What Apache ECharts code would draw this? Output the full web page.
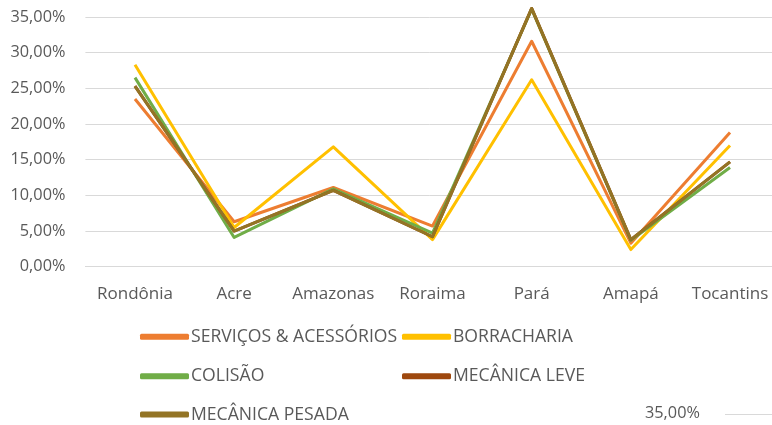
<!DOCTYPE html>
<html>
<head>
<meta charset="utf-8">
<script src="https://cdn.jsdelivr.net/npm/echarts@6/dist/echarts.min.js"></script>
<style>
  html, body { margin: 0; padding: 0; background: #fff; }
  #chart { width: 772px; height: 425px; }
</style>
</head>
<body>
<div id="chart"></div>
<script>
// Participação por estado (%), por segmento
const estados = ['Rondônia', 'Acre', 'Amazonas', 'Roraima', 'Pará', 'Amapá', 'Tocantins'];
const servicosAcessorios = [23.5, 6.3, 11.1, 5.7, 31.6, 3.3, 18.8];
const borracharia        = [28.3, 5.5, 16.8, 3.8, 26.2, 2.4, 17.0];
const colisao            = [26.5, 4.1, 10.9, 4.7, 36.1, 3.7, 13.9];
const mecanicaLeve       = [25.3, 5.0, 10.7, 4.2, 36.2, 3.8, 14.7];
const mecanicaPesada     = [25.3, 5.0, 10.7, 4.2, 36.2, 3.8, 14.7];
const yTicks = [0, 5, 10, 15, 20, 25, 30, 35];

const FONT = '"Open Sans", sans-serif';
const TXT = '#595959';

function pct(v) {
  return v.toFixed(2).replace('.', ',') + '%';
}

const seriesDefs = [
  { name: 'SERVIÇOS & ACESSÓRIOS', data: servicosAcessorios, color: '#ED7D31' },
  { name: 'BORRACHARIA', data: borracharia, color: '#FFC000' },
  { name: 'COLISÃO', data: colisao, color: '#70AD47' },
  { name: 'MECÂNICA LEVE', data: mecanicaLeve, color: '#9E480E' },
  { name: 'MECÂNICA PESADA', data: mecanicaPesada, color: '#937425' }
];

// legend entries laid out on a two-column grid
const legendSlots = [
  { left: 140, center: 336.7 },
  { left: 402, center: 336.7 },
  { left: 140, center: 376.2 },
  { left: 402, center: 376.2 },
  { left: 140, center: 414.5 }
];

function legendFor(name, slot) {
  return {
    data: [name],
    left: slot.left,
    top: slot.center - 10,
    padding: 0,
    icon: 'roundRect',
    itemWidth: 49,
    itemHeight: 6,
    selectedMode: false,
    textStyle: { fontFamily: FONT, fontSize: 17.6, color: TXT, lineHeight: 20, padding: [0, 0, 0, -3] }
  };
}

const chart = echarts.init(document.getElementById('chart'));
chart.setOption({
  animation: false,
  backgroundColor: '#fff',
  // plot area runs slightly past the right edge of the canvas
  grid: {
    left: 85.4, top: 17, width: 694.2, height: 249.7,
    containLabel: false, outerBoundsMode: 'none'
  },
  legend: seriesDefs.map((s, i) => legendFor(s.name, legendSlots[i])),
  xAxis: {
    type: 'category',
    data: estados,
    boundaryGap: true,
    axisLine: { lineStyle: { color: '#D9D9D9', width: 1 } },
    axisTick: { show: false },
    axisLabel: { fontFamily: FONT, fontSize: 17, color: TXT, margin: 19, interval: 0 }
  },
  yAxis: {
    type: 'value',
    min: yTicks[0],
    max: yTicks[yTicks.length - 1],
    interval: 5,
    axisLine: { show: false },
    axisTick: { show: false },
    splitLine: { lineStyle: { color: '#D9D9D9', width: 1 } },
    axisLabel: { fontFamily: FONT, fontSize: 16.3, color: TXT, margin: 20, formatter: pct }
  },
  series: seriesDefs.map(s => ({
    name: s.name,
    type: 'line',
    data: s.data,
    symbol: 'none',
    clip: false,
    color: s.color,
    lineStyle: { width: 3, color: s.color, join: 'round' }
  })),
  graphic: [
    {
      type: 'text',
      left: 645, top: 405,
      style: { text: pct(35), fontFamily: FONT, fontSize: 16.3, fill: TXT }
    },
    {
      type: 'line',
      shape: { x1: 725, y1: 414.5, x2: 772, y2: 414.5 },
      style: { stroke: '#D9D9D9', lineWidth: 1 }
    }
  ]
});
</script>
</body>
</html>
